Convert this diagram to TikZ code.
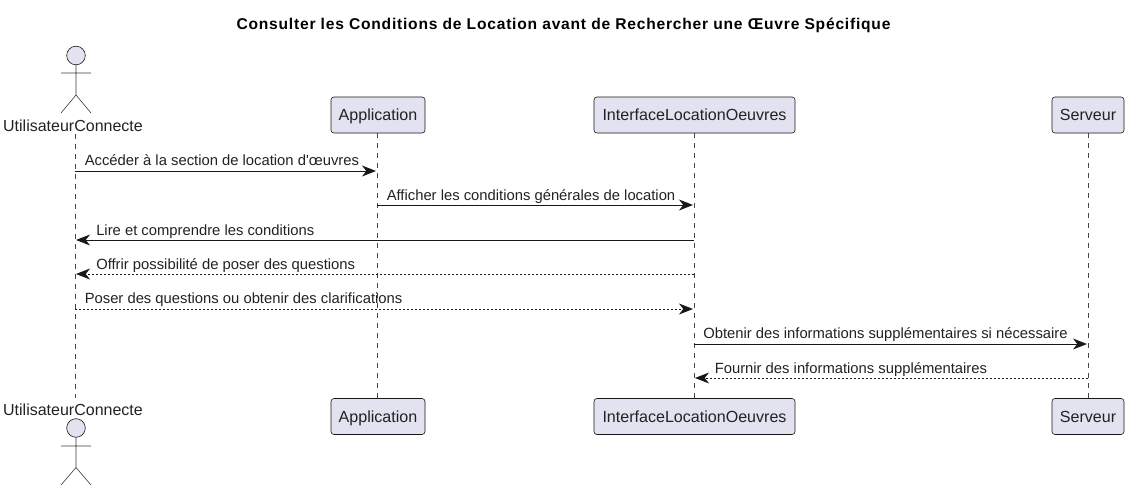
\documentclass[tikz,border=0pt]{standalone}
\usepackage{fontspec}
\setmainfont[Ligatures=TeXOff]{Liberation Sans}
\usetikzlibrary{arrows.meta,positioning}
\definecolor{pfill}{HTML}{E2E2F0}
\definecolor{pline}{HTML}{181818}
\definecolor{ptext}{HTML}{222222}
\tikzset{
  x=0.75pt,y=-0.75pt,
  part/.style={draw=pline,fill=pfill,rounded corners=2.2pt,line width=0.45pt,minimum height=27pt,inner sep=0pt,text depth=0pt,font=\fontsize{12.05}{14}\selectfont,text=ptext,anchor=center},
  actlabel/.style={inner sep=0pt,font=\fontsize{12}{14}\selectfont,text=ptext,anchor=center},
  lifeline/.style={draw=pline!80,line width=0.4pt,dash pattern=on 3.75pt off 3.75pt},
  actorline/.style={draw=pline!85,line width=0.45pt},
  head/.style={draw=pline,fill=pfill,line width=0.45pt},
  msg/.style={draw=pline,line width=0.75pt,-{Stealth[length=10.5pt,width=8.2pt,inset=3.2pt]}},
  ret/.style={msg,dash pattern=on 1.5pt off 1.5pt},
  mlabel/.style={inner sep=0pt,anchor=base west,font=\fontsize{11.1}{13}\selectfont,text=ptext},
}
\begin{document}
\begin{tikzpicture}
\useasboundingbox (0,0) rectangle (1131,492);
\node[inner sep=0pt,font=\bfseries\fontsize{11.7}{13}\selectfont,text=black,anchor=center] (title) at (563.5,25) {\addfontfeature{LetterSpace=5}Consulter les Conditions de Location avant de Rechercher une Œuvre Spécifique};
% top participants
\node[actlabel] (ut) at (73,125.5) {UtilisateurConnecte};
\node[part,minimum width=70.5pt] (at) at (378,115) {Application};
\node[part,minimum width=150.75pt] (it) at (694.5,115) {InterfaceLocationOeuvres};
\node[part,minimum width=54pt] (st) at (1088,115) {Serveur};
% bottom participants
\node[actlabel] (ub) at (73,409.5) {UtilisateurConnecte};
\node[part,minimum width=70.5pt] (ab) at (378,416.5) {Application};
\node[part,minimum width=150.75pt] (ib) at (694.5,416.5) {InterfaceLocationOeuvres};
\node[part,minimum width=54pt] (sb) at (1088,416.5) {Serveur};
% actors
\node[head,circle,minimum size=14pt,inner sep=0pt] (h1) at (76,55.5) {};
\coordinate (b1) at (76,95);
\coordinate (a1l) at (61,73);
\coordinate (a1r) at (91,73);
\coordinate (l1l) at (61,113);
\coordinate (l1r) at (91,113);
\draw[actorline] (h1) -- (b1) (a1l) -- (a1r) (l1l) -- (b1) -- (l1r);
\node[head,circle,minimum size=14pt,inner sep=0pt] (h2) at (76,428) {};
\coordinate (b2) at (76,467.5);
\coordinate (a2l) at (61,446);
\coordinate (a2r) at (91,446);
\coordinate (l2l) at (61,485);
\coordinate (l2r) at (91,485);
\draw[actorline] (h2) -- (b2) (a2l) -- (a2r) (l2l) -- (b2) -- (l2r);
% lifelines
\coordinate (ltop) at (75,134);
\coordinate (lbot) at (75,398);
\draw[lifeline] (ltop) -- (lbot);
\coordinate (atl) at (377,133);
\coordinate (abl) at (377,398);
\draw[lifeline] (atl) -- (abl);
\coordinate (itl) at (694,133);
\coordinate (ibl) at (694,398);
\draw[lifeline] (itl) -- (ibl);
\coordinate (stl) at (1088,133);
\coordinate (sbl) at (1088,398);
\draw[lifeline] (stl) -- (sbl);
% messages
\coordinate (m1a) at (75,171); \coordinate (m1b) at (376,171);
\draw[msg] (m1a) -- (m1b);
\node[mlabel] (t1) at (84.5,165.5) {Accéder à la section de location d'œuvres};
\coordinate (m2a) at (377,205); \coordinate (m2b) at (693,205);
\draw[msg] (m2a) -- (m2b);
\node[mlabel] (t2) at (386.5,200) {Afficher les conditions générales de location};
\coordinate (m3a) at (694,240); \coordinate (m3b) at (76,240);
\draw[msg] (m3a) -- (m3b);
\node[mlabel] (t3) at (96,235) {Lire et comprendre les conditions};
\coordinate (m4a) at (694,274); \coordinate (m4b) at (76,274);
\draw[ret] (m4a) -- (m4b);
\node[mlabel] (t4) at (96,269) {Offrir possibilité de poser des questions};
\coordinate (m5a) at (75,309); \coordinate (m5b) at (693,309);
\draw[ret] (m5a) -- (m5b);
\node[mlabel] (t5) at (84.5,303.5) {Poser des questions ou obtenir des clarifications};
\coordinate (m6a) at (694,344); \coordinate (m6b) at (1087,344);
\draw[msg] (m6a) -- (m6b);
\node[mlabel] (t6) at (703,338.5) {Obtenir des informations supplémentaires si nécessaire};
\coordinate (m7a) at (1088,378); \coordinate (m7b) at (695,378);
\draw[ret] (m7a) -- (m7b);
\node[mlabel] (t7) at (714.5,373) {Fournir des informations supplémentaires};
\end{tikzpicture}
\end{document}
